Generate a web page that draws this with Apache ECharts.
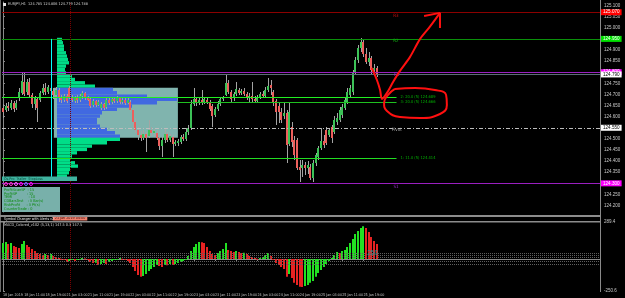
<!DOCTYPE html>
<html><head><meta charset="utf-8">
<script src="https://cdn.jsdelivr.net/npm/echarts@6/dist/echarts.min.js"></script>
<style>html,body{margin:0;padding:0;background:#000;}#c{width:625px;height:298px;}</style>
</head><body><div id="c"></div>
<script>
// ---------- data ----------
const openPrices = [
124.639,124.630,124.648,124.639,124.662,124.639,124.684,124.707,124.756,124.711,
124.756,124.698,124.657,124.680,124.675,124.707,124.729,124.711,124.729,124.716,
124.698,124.720,124.684,124.675,124.693,124.729,124.689,124.671,124.684,124.675,
124.693,124.707,124.684,124.680,124.653,124.671,124.653,124.639,124.657,124.644,
124.675,124.666,124.680,124.671,124.684,124.666,124.675,124.662,124.666,124.630,
124.576,124.540,124.518,124.504,124.522,124.513,124.540,124.527,124.527,124.504,
124.468,124.495,124.522,124.495,124.509,124.477,124.482,124.486,124.509,124.500,
124.531,124.549,124.657,124.680,124.662,124.675,124.666,124.675,124.666,124.648,
124.608,124.635,124.657,124.680,124.698,124.752,124.711,124.684,124.702,124.720,
124.707,124.716,124.702,124.684,124.693,124.680,124.671,124.689,124.702,124.693,
124.720,124.743,124.711,124.671,124.648,124.621,124.603,124.617,124.477,124.554,
124.495,124.495,124.374,124.369,124.383,124.369,124.374,124.324,124.392,124.419,
124.459,124.491,124.540,124.518,124.554,124.531,124.576,124.585,124.608,124.639,
124.666,124.698,124.711,124.801,124.855,124.909,124.936,124.882,124.846,124.864,
124.810,124.819];
const closePrices = [
124.621,124.648,124.639,124.662,124.635,124.662,124.711,124.761,124.702,124.756,
124.698,124.657,124.684,124.639,124.707,124.729,124.711,124.734,124.716,124.698,
124.720,124.684,124.675,124.693,124.671,124.689,124.675,124.684,124.675,124.693,
124.707,124.684,124.675,124.648,124.671,124.653,124.666,124.657,124.639,124.675,
124.662,124.680,124.671,124.684,124.666,124.675,124.662,124.675,124.630,124.576,
124.540,124.518,124.504,124.522,124.504,124.540,124.527,124.536,124.504,124.468,
124.495,124.522,124.495,124.513,124.477,124.486,124.491,124.509,124.500,124.531,
124.549,124.657,124.680,124.662,124.675,124.662,124.680,124.666,124.635,124.603,
124.635,124.657,124.680,124.684,124.752,124.711,124.680,124.702,124.725,124.707,
124.716,124.702,124.684,124.693,124.680,124.671,124.689,124.702,124.693,124.720,
124.738,124.729,124.662,124.621,124.621,124.585,124.617,124.473,124.621,124.486,
124.428,124.369,124.360,124.383,124.369,124.383,124.324,124.392,124.428,124.459,
124.491,124.473,124.482,124.540,124.504,124.585,124.594,124.630,124.644,124.675,
124.711,124.729,124.801,124.855,124.909,124.936,124.882,124.846,124.864,124.810,
124.819,124.788];
const lowPrices = [
124.594,124.621,124.626,124.630,124.621,124.630,124.671,124.698,124.693,124.698,
124.689,124.639,124.630,124.576,124.666,124.698,124.698,124.702,124.698,124.680,
124.684,124.666,124.662,124.666,124.662,124.680,124.666,124.662,124.662,124.666,
124.680,124.675,124.671,124.639,124.644,124.644,124.648,124.630,124.630,124.635,
124.653,124.657,124.662,124.662,124.657,124.657,124.653,124.657,124.621,124.549,
124.527,124.495,124.491,124.495,124.441,124.504,124.513,124.509,124.495,124.450,
124.419,124.482,124.486,124.486,124.419,124.468,124.468,124.477,124.491,124.491,
124.518,124.540,124.648,124.648,124.653,124.653,124.657,124.657,124.626,124.554,
124.599,124.626,124.648,124.671,124.693,124.702,124.662,124.671,124.693,124.698,
124.698,124.693,124.675,124.666,124.666,124.662,124.662,124.680,124.684,124.684,
124.711,124.698,124.648,124.563,124.572,124.572,124.590,124.392,124.468,124.464,
124.405,124.360,124.306,124.329,124.338,124.342,124.315,124.306,124.378,124.405,
124.450,124.459,124.473,124.509,124.482,124.522,124.563,124.576,124.594,124.630,
124.657,124.684,124.698,124.788,124.842,124.891,124.869,124.837,124.828,124.792,
124.783,124.779];
const highPrices = [
124.657,124.662,124.666,124.675,124.671,124.675,124.729,124.797,124.801,124.770,
124.774,124.707,124.693,124.689,124.716,124.747,124.752,124.743,124.743,124.729,
124.734,124.729,124.698,124.702,124.702,124.738,124.698,124.693,124.698,124.702,
124.716,124.711,124.693,124.689,124.680,124.675,124.675,124.666,124.662,124.684,
124.684,124.689,124.689,124.693,124.689,124.684,124.684,124.684,124.675,124.635,
124.594,124.554,124.536,124.540,124.531,124.585,124.554,124.545,124.540,124.518,
124.509,124.549,124.531,124.522,124.518,124.495,124.500,124.518,124.522,124.549,
124.563,124.675,124.729,124.689,124.689,124.720,124.689,124.689,124.675,124.657,
124.644,124.671,124.689,124.693,124.788,124.765,124.720,124.711,124.756,124.729,
124.725,124.729,124.711,124.707,124.756,124.693,124.698,124.711,124.716,124.734,
124.774,124.765,124.720,124.680,124.662,124.639,124.666,124.630,124.662,124.576,
124.513,124.504,124.405,124.405,124.396,124.401,124.387,124.405,124.437,124.468,
124.549,124.518,124.554,124.549,124.563,124.603,124.617,124.644,124.657,124.684,
124.729,124.743,124.810,124.869,124.923,124.954,124.945,124.909,124.891,124.873,
124.837,124.828];
const macdValues = [
125,133,117,125,101,94,86,117,140,109,
94,78,62,47,39,31,39,31,39,23,
16,8,2,-8,-23,-16,-8,-16,-8,-3,
8,3,-8,-23,-31,-29,-47,-39,-31,-39,
-23,-16,-8,-2,8,2,-8,-16,-31,-62,
-94,-125,-140,-133,-117,-94,-78,-62,-47,-55,
-62,-47,-49,-39,-47,-39,-31,-23,-16,-2,
23,62,94,117,133,130,125,94,62,39,
31,47,62,78,125,70,62,55,62,55,
47,49,39,23,16,8,2,8,16,31,
47,23,-8,-31,-47,-62,-78,-140,-117,-148,
-187,-203,-218,-220,-211,-203,-187,-172,-140,-109,
-86,-62,-39,-16,8,31,55,47,62,70,
94,125,156,195,218,242,257,242,211,172,
140,117];
const macdLevels = [45, 32, 15, -18, -45];
const tickBars = [0,8,16,24,32,40,48,56,64,72,80,88,96,104,112,120,128,136];
const tickLabels = ["18 Jan 2019","18 Jan 11:00","18 Jan 19:00","21 Jan 03:00","21 Jan 11:00","21 Jan 19:00",
  "22 Jan 03:00","22 Jan 11:00","22 Jan 19:00","23 Jan 03:00","23 Jan 11:00","23 Jan 19:00",
  "24 Jan 03:00","24 Jan 11:00","24 Jan 19:00","25 Jan 03:00","25 Jan 11:00","25 Jan 19:00"];
const priceTicks = [124.20,124.25,124.30,124.35,124.40,124.45,124.50,124.55,124.60,124.65,124.70,124.75,124.80,124.85,124.90,124.95,125.00,125.05,125.10];
const profileVolumes = [5,6,7,7,9,10,11,12,9,8,9,15,18,28,38,56,60,90,120,100,75,60,45,43,40,40,43,50,58,63,63,50,35,30,20,15,13,18,21,13,12,10];
const profileTop = 124.955, profileStep = 0.015;
const valueAreaHigh = 124.730, valueAreaLow = 124.505, valueAreaFromBar = 19.2, valueAreaToBar = 66.0;
const levelR3 = 125.067, levelR2 = 124.952, levelR1 = 124.801, lastPrice = 124.788, pivotLevel = 124.549, levelS1 = 124.297;
const zone2 = 124.689, zone3 = 124.666, zone1 = 124.414;
const markerBar = 25.3, markerLabel = "21 Jan 2019 04:00";
const arrowPath = [[139.2,124.819],[141.1,124.765],[142.3,124.720],[143.0,124.680],[144.9,124.707],[147.2,124.756],[149.8,124.806],[153.6,124.869],[157.4,124.950],[161.1,125.005],[164.9,125.067]];
const arrowHead = [[158.9,125.053],[164.9,125.067],[164.9,124.999]];
const ellipsePath = [[147.9,124.725],[155.5,124.729],[163.0,124.720],[167.2,124.698],[167.5,124.653],[164.9,124.612],[157.4,124.594],[149.8,124.599],[144.9,124.626],[143.8,124.662],[145.3,124.698],[147.9,124.725]];

// ---------- chart ----------
const FONT = '"Liberation Sans", Arial, sans-serif';
const NARROW = '"Liberation Sans Narrow", "DejaVu Sans Condensed", "Liberation Sans", sans-serif';
const X_MIN = -0.377, X_MAX = 225.283, P_MIN = 124.171, P_MAX = 125.116;
const chart = echarts.init(document.getElementById('c'), null, {renderer: 'canvas', width: 625, height: 298});

const candleData = openPrices.map((o, i) => [i, o, closePrices[i], lowPrices[i], highPrices[i]]);
const macdData = macdValues.map((v, i) => [i, v, (i === 0 || v >= macdValues[i - 1]) ? 1 : 0]);
const profileData = profileVolumes.map((v, k) => [profileTop - k * profileStep, profileTop - (k + 1) * profileStep, v]);

function tag(bg, fg) {
  return {show: true, position: 'end', distance: 1, formatter: p => p.value.toFixed(3), backgroundColor: bg, color: fg,
          fontSize: 4.6, fontFamily: FONT, padding: [1, 2, 0, 2]};
}
function endText(txt, col) {
  return {show: true, position: 'end', distance: 4, formatter: txt, color: col, fontSize: 4, fontFamily: NARROW};
}
function nameLabel(txt, col, bar, price, dy) {
  return {coord: [bar, price], symbol: 'circle', symbolSize: 0,
          label: {show: true, position: 'inside', formatter: txt, color: col, fontSize: 4.5, fontFamily: NARROW, offset: [0, dy]}};
}

const option = {
  backgroundColor: '#000',
  animation: false,
  grid: [
    {left: 2, top: 2, width: 598, height: 210, containLabel: false, outerBoundsMode: 'none'},
    {left: 57, top: 2, width: 200, height: 210, containLabel: false, outerBoundsMode: 'none'},
    {left: 2, top: 222, width: 598, height: 69, containLabel: false, outerBoundsMode: 'none'}
  ],
  xAxis: [
    {type: 'value', gridIndex: 0, min: X_MIN, max: X_MAX, show: false},
    {type: 'value', gridIndex: 1, min: 0, max: 200, show: false},
    {type: 'value', gridIndex: 2, min: X_MIN, max: X_MAX, splitLine: {show: false},
     axisLine: {show: true, lineStyle: {color: '#8a8a8a'}},
     axisTick: {show: true, length: 2, customValues: tickBars, lineStyle: {color: '#8a8a8a'}},
     axisLabel: {customValues: tickBars, formatter: v => tickLabels[tickBars.indexOf(Math.round(v))] || '',
                 color: '#c8c8c8', fontSize: 3.7, fontFamily: NARROW, align: 'left', margin: 2.5}}
  ],
  yAxis: [
    {type: 'value', gridIndex: 0, position: 'right', min: P_MIN, max: P_MAX, splitLine: {show: false},
     axisLine: {show: true, lineStyle: {color: '#8a8a8a'}},
     axisTick: {show: true, length: 2, customValues: priceTicks, lineStyle: {color: '#8a8a8a'}},
     axisLabel: {customValues: priceTicks, formatter: v => v.toFixed(3), color: '#c8c8c8', fontSize: 4.5, fontFamily: FONT, margin: 4}},
    {type: 'value', gridIndex: 1, min: P_MIN, max: P_MAX, show: false},
    {type: 'value', gridIndex: 2, position: 'right', min: -250.6, max: 289.4, splitLine: {show: false},
     axisLine: {show: true, lineStyle: {color: '#8a8a8a'}},
     axisTick: {show: true, length: 2, customValues: [289.4, -250.6], lineStyle: {color: '#8a8a8a'}},
     axisLabel: {customValues: [289.4, -250.6], formatter: v => v.toFixed(1), color: '#c8c8c8', fontSize: 4.5, fontFamily: FONT, margin: 4}}
  ],
  series: [
    {type: 'custom', xAxisIndex: 0, yAxisIndex: 0, z: 1, silent: true,
     data: [[valueAreaFromBar, valueAreaToBar, valueAreaHigh, valueAreaLow]],
     encode: {x: [0, 1], y: [2, 3]},
     renderItem: (params, api) => {
       const a = api.coord([api.value(0), api.value(2)]);
       const b = api.coord([api.value(1), api.value(3)]);
       return {type: 'rect', shape: {x: a[0], y: a[1], width: b[0] - a[0], height: b[1] - a[1]}, style: {fill: '#80b4ae'}};
     }},
    {type: 'custom', xAxisIndex: 1, yAxisIndex: 1, z: 2, silent: true,
     data: profileData, encode: {x: 2, y: [0, 1]},
     renderItem: (params, api) => {
       const top = api.value(0), bot = api.value(1), vol = api.value(2);
       const a = api.coord([0, top]);
       const b = api.coord([vol, bot]);
       const inVA = top <= valueAreaHigh + 1e-6 && bot >= valueAreaLow - 1e-6;
       return {type: 'rect', shape: {x: a[0], y: a[1], width: b[0] - a[0], height: b[1] - a[1]},
               style: {fill: inVA ? '#4169e1' : '#00dd88'}};
     }},
    {type: 'line', xAxisIndex: 0, yAxisIndex: 0, z: 3, data: [[-5, 124.5]], showSymbol: false, lineStyle: {opacity: 0}, silent: true,
     markLine: {symbol: ['none', 'none'], silent: true, animation: false, label: {show: false},
       data: [
         {yAxis: levelR3, lineStyle: {color: '#8b0000', width: 1, type: 'solid'}, label: tag('#ff0000', '#ffffff')},
         {yAxis: levelR2, lineStyle: {color: '#0a900a', width: 1, type: 'solid'}, label: tag('#00e000', '#ffffff')},
         {yAxis: levelR1, lineStyle: {color: '#9a1fc0', width: 1, type: 'solid'}, label: tag('#ff00ff', '#ffffff')},
         {yAxis: lastPrice, lineStyle: {color: '#5c6b78', width: 1, type: 'solid'}, label: tag('#ffffff', '#000000')},
         {yAxis: pivotLevel, lineStyle: {color: '#bdbdbd', width: 1, type: [4, 2, 1, 2]}, label: tag('#ffffff', '#000000')},
         {yAxis: levelS1, lineStyle: {color: '#9a1fc0', width: 1, type: 'solid'}, label: tag('#ff00ff', '#ffffff')},
         [{coord: [X_MIN, zone2], lineStyle: {color: '#22ee22', width: 1, type: 'solid'}, label: endText('2: 20.0 (5) 124.689', '#00b000')},
          {coord: [148.5, zone2], lineStyle: {color: '#22ee22', width: 1, type: 'solid'}, label: endText('2: 20.0 (5) 124.689', '#00b000')}],
         [{coord: [66, zone3], lineStyle: {color: '#1fc01f', width: 1, type: 'solid'}, label: endText('3: 20.0 (5) 124.666', '#00b000')},
          {coord: [148.5, zone3], lineStyle: {color: '#1fc01f', width: 1, type: 'solid'}, label: endText('3: 20.0 (5) 124.666', '#00b000')}],
         [{coord: [X_MIN, zone1], lineStyle: {color: '#22dd22', width: 1, type: 'solid'}, label: endText('1: 11.0 (5) 124.414', '#00b000')},
          {coord: [148.5, zone1], lineStyle: {color: '#22dd22', width: 1, type: 'solid'}, label: endText('1: 11.0 (5) 124.414', '#00b000')}],
         [{coord: [18.1, 124.950], lineStyle: {color: '#00ffff', width: 1, type: 'solid'}},
          {coord: [18.1, 124.329], lineStyle: {color: '#00ffff', width: 1, type: 'solid'}}],
         {xAxis: markerBar, lineStyle: {color: '#7a0000', width: 1, type: [1, 1]}}
       ]},
     markPoint: {silent: true, animation: false, data: [
       nameLabel('R3', '#d01010', 148.3, levelR3, 3),
       nameLabel('R2', '#10b010', 148.3, levelR2, 2),
       nameLabel('R1', '#a030d0', 148.6, levelR1, 3),
       nameLabel('Pivot', '#a8a8a8', 148.6, pivotLevel, 2),
       nameLabel('S1', '#a030d0', 148.3, levelS1, 3)
     ]}},
    {type: 'custom', xAxisIndex: 0, yAxisIndex: 0, z: 4, silent: true,
     data: candleData, encode: {x: 0, y: [1, 2, 3, 4]},
     renderItem: (params, api) => {
       const i = api.value(0), o = api.value(1), c = api.value(2), l = api.value(3), h = api.value(4);
       const po = api.coord([i, o]), pc = api.coord([i, c]), pl = api.coord([i, l]), ph = api.coord([i, h]);
       const x = Math.round(po[0]);
       const top = Math.min(po[1], pc[1]), bot = Math.max(po[1], pc[1]);
       return {type: 'group', children: [
         {type: 'rect', shape: {x: x, y: ph[1], width: 1, height: Math.max(1, pl[1] - ph[1])}, style: {fill: '#a4a4a4'}},
         {type: 'rect', shape: {x: x - 1, y: top, width: 2, height: Math.max(1, bot - top)}, style: {fill: c >= o ? '#3cc257' : '#ec5f5c'}}
       ]};
     }},
    {type: 'line', xAxisIndex: 0, yAxisIndex: 0, z: 6, data: arrowPath, smooth: 0.3, showSymbol: false, silent: true,
     lineStyle: {color: '#ff1010', width: 2}},
    {type: 'line', xAxisIndex: 0, yAxisIndex: 0, z: 6, data: arrowHead, showSymbol: false, silent: true,
     lineStyle: {color: '#ff1010', width: 2}},
    {type: 'line', xAxisIndex: 0, yAxisIndex: 0, z: 6, data: ellipsePath, smooth: 0.5, showSymbol: false, silent: true,
     lineStyle: {color: '#ff1010', width: 2}},
    {type: 'custom', xAxisIndex: 2, yAxisIndex: 2, z: 4, silent: true,
     data: macdData, encode: {x: 0, y: 1},
     renderItem: (params, api) => {
       const i = api.value(0), v = api.value(1);
       const p0 = api.coord([i, 0]), p1 = api.coord([i, v]);
       const x = Math.round(p0[0]);
       return {type: 'rect', shape: {x: x - 1, y: Math.min(p0[1], p1[1]), width: 2, height: Math.max(1, Math.abs(p1[1] - p0[1]))},
               style: {fill: api.value(2) ? '#22e022' : '#e82222'}};
     }},
    {type: 'line', xAxisIndex: 2, yAxisIndex: 2, z: 3, data: [[-5, 0]], showSymbol: false, lineStyle: {opacity: 0}, silent: true,
     markLine: {symbol: ['none', 'none'], silent: true, animation: false, label: {show: false},
       data: macdLevels.map(v => ({yAxis: v, lineStyle: {color: '#5e5e5e', width: 1, type: [1, 1]}})).concat([
         {xAxis: markerBar, lineStyle: {color: '#7a0000', width: 1, type: [1, 1]},
          label: {show: true, position: 'end', distance: 1.5, formatter: markerLabel, backgroundColor: '#f0806c', color: '#3a0000',
                  fontSize: 3.7, fontFamily: NARROW, padding: [1, 2, 0, 2]}}
       ])},
     markPoint: {silent: true, animation: false, data: [
       {coord: [139.5, 47], symbol: 'circle', symbolSize: 0,
        label: {show: true, position: 'inside', formatter: '250', color: '#2a9a9a', fontSize: 6.5, fontFamily: FONT}}
     ]}}
  ],
  graphic: [
    {type: 'rect', z: 100, shape: {x: 0, y: 0, width: 1, height: 292}, style: {fill: '#6a6a6a'}},
    {type: 'rect', z: 100, shape: {x: 600, y: 0, width: 1, height: 292}, style: {fill: '#8a8a8a'}},
    {type: 'rect', z: 100, shape: {x: 0, y: 215, width: 601, height: 2}, style: {fill: '#8c8c8c'}},
    {type: 'rect', z: 100, shape: {x: 0, y: 221, width: 601, height: 1.5}, style: {fill: '#8c8c8c'}},
    {type: 'rect', z: 100, shape: {x: 3, y: 3, width: 3, height: 3}, style: {fill: '#e0e0e0'}},
    {type: 'text', z: 100, x: 8, y: 2.3, style: {text: 'EURJPY,H1  124.785 124.806 124.779 124.788', fill: '#d0d0d0', fontSize: 3.8, fontFamily: NARROW, verticalAlign: 'top'}},
    {type: 'text', z: 100, x: 4, y: 217.5, style: {text: 'Symbol Changer with Alerts v2', fill: '#e8e8e8', fontSize: 3.6, fontFamily: NARROW, verticalAlign: 'top'}},
    {type: 'text', z: 100, x: 4, y: 223.5, style: {text: 'MACD_Colored_v102 (5,13,1) 147.5 0.3 147.5', fill: '#d8d8d8', fontSize: 3.8, fontFamily: NARROW, verticalAlign: 'top'}},
    {type: 'rect', z: 100, shape: {x: 2, y: 176.5, width: 75, height: 4.5}, style: {fill: '#3fb3a0'}},
    {type: 'text', z: 101, x: 4, y: 177, style: {text: 'Os.Pro  Trailer  StopLoss', fill: '#0a4a3a', fontSize: 3.6, fontFamily: NARROW, verticalAlign: 'top'}},
    {type: 'circle', z: 100, shape: {cx: 6, cy: 184, r: 1.5}, style: {fill: 'none', stroke: '#ff33cc', lineWidth: 1}},
    {type: 'circle', z: 100, shape: {cx: 11, cy: 184, r: 1.5}, style: {fill: 'none', stroke: '#ff33cc', lineWidth: 1}},
    {type: 'circle', z: 100, shape: {cx: 16, cy: 184, r: 1.5}, style: {fill: 'none', stroke: '#ff66ff', lineWidth: 1}},
    {type: 'circle', z: 100, shape: {cx: 21, cy: 184, r: 1.5}, style: {fill: 'none', stroke: '#ff00ff', lineWidth: 1}},
    {type: 'circle', z: 100, shape: {cx: 26, cy: 184, r: 1.5}, style: {fill: 'none', stroke: '#7070ff', lineWidth: 1}},
    {type: 'circle', z: 100, shape: {cx: 31, cy: 184, r: 1.5}, style: {fill: 'none', stroke: '#ff00ff', lineWidth: 1}},
    {type: 'rect', z: 100, shape: {x: 2, y: 187, width: 58, height: 25}, style: {fill: '#78b0aa'}},
    {type: 'text', z: 101, x: 4, y: 188, style: {text: 'ProfitScanSP  : 15\nProfitSP         : 15\nTEMI               : 10\nCDBarsTest    : 3 Bar(s)\nRiskProfit      : 3 Pt(s)\nCounterTrade : 0',
      fill: '#0b8a0b', fontSize: 3.8, lineHeight: 3.8, fontFamily: NARROW, verticalAlign: 'top'}}
  ]
};
chart.setOption(option);
</script>
</body></html>
